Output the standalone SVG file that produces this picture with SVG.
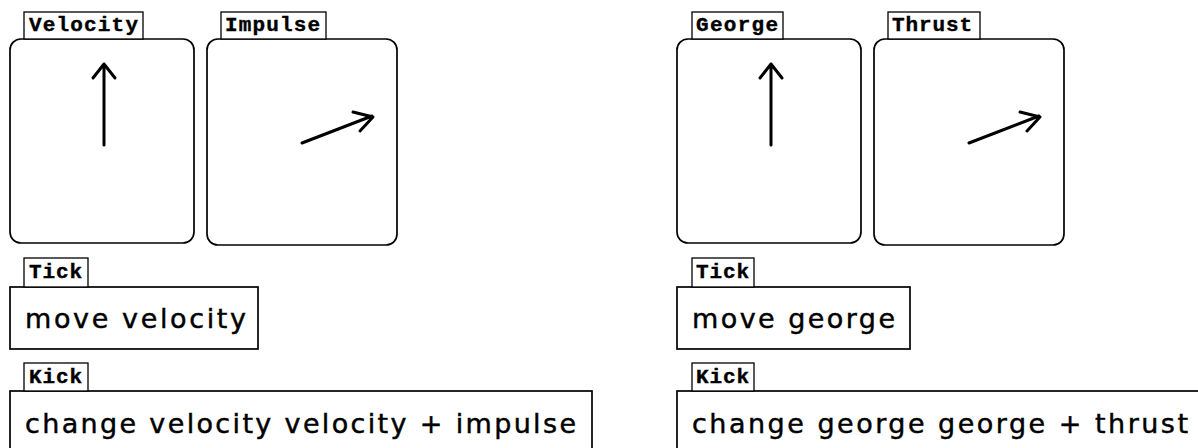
<svg xmlns="http://www.w3.org/2000/svg" width="1198" height="448" viewBox="0 0 1198 448">
<style>
.bg{fill:#fff}
.box{fill:#fff;stroke:#000;stroke-width:1.7}
.tab{fill:#fff;stroke:#000;stroke-width:1.3}
.tabt{font-family:"Liberation Mono","DejaVu Sans Mono",monospace;font-weight:bold;font-size:21px;fill:#000;stroke:#000;stroke-width:0.4}
.code{font-family:"DejaVu Sans","Liberation Sans",sans-serif;font-size:27px;fill:#000;stroke:#000;stroke-width:0.45}
.arr{fill:none;stroke:#000;stroke-width:3;stroke-linecap:round;stroke-linejoin:round}
</style>
<rect class="bg" x="0" y="0" width="1198" height="448"/>

<g id="velocity">
  <rect class="box" x="10" y="39" width="184" height="204" rx="11" ry="11"/>
  <rect class="tab" x="24" y="12" width="119" height="27"/>
  <text class="tabt" x="29" y="31" textLength="109" lengthAdjust="spacing">Velocity</text>
</g>
<g id="impulse">
  <rect class="box" x="207" y="39" width="190" height="206" rx="11" ry="11"/>
  <rect class="tab" x="221" y="12" width="105" height="27"/>
  <text class="tabt" x="225" y="31" textLength="95" lengthAdjust="spacing">Impulse</text>
</g>
<g id="tick-left">
  <rect class="box" x="10" y="287" width="248" height="62"/>
  <rect class="tab" x="24" y="258" width="64" height="29"/>
  <text class="tabt" x="29" y="278" textLength="53" lengthAdjust="spacing">Tick</text>
  <text class="code" x="25" y="328" textLength="221" lengthAdjust="spacing">move velocity</text>
</g>
<g id="kick-left">
  <rect class="box" x="10" y="391" width="582" height="70"/>
  <rect class="tab" x="24" y="363" width="64" height="28"/>
  <text class="tabt" x="29" y="383" textLength="53" lengthAdjust="spacing">Kick</text>
  <text class="code" x="25" y="433" textLength="551" lengthAdjust="spacing">change velocity velocity + impulse</text>
</g>

<g id="george">
  <rect class="box" x="677" y="39" width="184" height="204" rx="11" ry="11"/>
  <rect class="tab" x="692" y="12" width="91" height="27"/>
  <text class="tabt" x="696" y="31" textLength="82" lengthAdjust="spacing">George</text>
</g>
<g id="thrust">
  <rect class="box" x="874" y="39" width="190" height="206" rx="11" ry="11"/>
  <rect class="tab" x="888" y="12" width="92" height="27"/>
  <text class="tabt" x="892" y="31" textLength="80" lengthAdjust="spacing">Thrust</text>
</g>
<g id="tick-right">
  <rect class="box" x="677" y="287" width="233" height="62"/>
  <rect class="tab" x="692" y="258" width="62" height="29"/>
  <text class="tabt" x="696" y="278" textLength="53" lengthAdjust="spacing">Tick</text>
  <text class="code" x="692" y="328" textLength="203" lengthAdjust="spacing">move george</text>
</g>
<g id="kick-right">
  <rect class="box" x="677" y="391" width="560" height="70"/>
  <rect class="tab" x="692" y="363" width="62" height="28"/>
  <text class="tabt" x="696" y="383" textLength="53" lengthAdjust="spacing">Kick</text>
  <text class="code" x="692" y="433" textLength="496" lengthAdjust="spacing">change george george + thrust</text>
</g>

<g id="connectors">
  <path class="arr" d="M104 145 V64 M93 78 L104 64 L115 78"/>
  <path class="arr" d="M302 143 L372 116 M353 112 L373 117 L360 131"/>
  <path class="arr" d="M771 145 V64 M760 78 L771 64 L782 78"/>
  <path class="arr" d="M969 143 L1039 116 M1020 112 L1040 117 L1027 131"/>
</g>
</svg>
